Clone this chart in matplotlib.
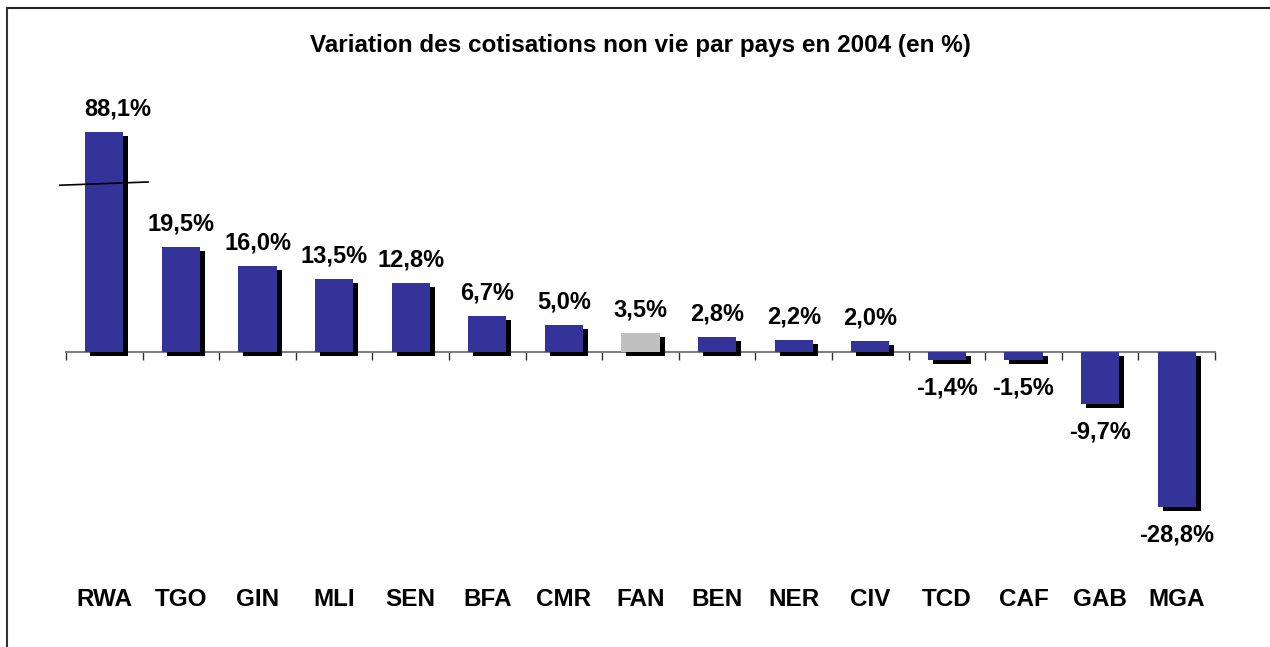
import matplotlib.pyplot as plt
import matplotlib.transforms as mtransforms
from matplotlib.lines import Line2D

plt.rcParams['font.family'] = ['Liberation Sans', 'DejaVu Sans']

# data
countries = ["RWA", "TGO", "GIN", "MLI", "SEN", "BFA", "CMR", "FAN",
             "BEN", "NER", "CIV", "TCD", "CAF", "GAB", "MGA"]
values = [88.1, 19.5, 16.0, 13.5, 12.8, 6.7, 5.0, 3.5,
          2.8, 2.2, 2.0, -1.4, -1.5, -9.7, -28.8]
labels = ["88,1%", "19,5%", "16,0%", "13,5%", "12,8%", "6,7%", "5,0%", "3,5%",
          "2,8%", "2,2%", "2,0%", "-1,4%", "-1,5%", "-9,7%", "-28,8%"]
title = "Variation des cotisations non vie par pays en 2004 (en %)"

# RWA is drawn with a broken (truncated) bar
cap = 40.9

W, H = 1270, 647
fig = plt.figure(figsize=(W / 100, H / 100), dpi=100)

y_lo, y_hi = -40, 45
px_per_unit = 5.38
bottom_px = 352 + (-y_lo) * px_per_unit
top_px = 352 - y_hi * px_per_unit
ax = fig.add_axes([66 / W, 1 - bottom_px / H, (1215 - 66) / W, (bottom_px - top_px) / H])
ax.set_xlim(-0.5, len(countries) - 0.5)
ax.set_ylim(y_lo, y_hi)

bar_color = "#333399"
colors = ["#C0C0C0" if c == "FAN" else bar_color for c in countries]
shown = [min(v, cap) for v in values]
x = list(range(len(countries)))

# shadow under each bar
shadow = mtransforms.offset_copy(ax.transData, fig=fig, x=5, y=-4, units='dots')
ax.bar(x, shown, width=0.5, color="black", transform=shadow, zorder=2.6)
ax.bar(x, shown, width=0.5, color=colors, zorder=3)

# break mark on the truncated bar
ax.plot([-0.58, 0.57], [31.0, 31.6], color="black", lw=1.2, zorder=4, clip_on=False)

for i, (v, s, lab) in enumerate(zip(values, shown, labels)):
    dx = 10 if v > cap else 0
    if v >= 0:
        ax.annotate(lab, (i, s), xytext=(dx, 12), textcoords='offset points',
                    ha='center', va='baseline', fontsize=17, fontweight='bold')
    else:
        ax.annotate(lab, (i, s), xytext=(0, -25), textcoords='offset points',
                    ha='center', va='baseline', fontsize=17, fontweight='bold')

# category names
trans = mtransforms.blended_transform_factory(ax.transData, fig.transFigure)
for i, c in enumerate(countries):
    ax.text(i, 1 - 606 / H, c, transform=trans, ha='center', va='baseline',
            fontsize=17.5, fontweight='bold')

# axis at zero with ticks between categories
for side in ["top", "right", "left"]:
    ax.spines[side].set_visible(False)
ax.spines["bottom"].set_position(("data", 0))
ax.spines["bottom"].set_color("#808080")
ax.spines["bottom"].set_linewidth(1.5)
ax.set_xticks([i - 0.5 for i in range(len(countries) + 1)])
ax.set_xticklabels([])
ax.tick_params(axis='x', direction='out', length=6, width=1, color="#303030")
ax.set_yticks([])

fig.text(640 / W, 1 - 52 / H, title, ha='center', va='baseline',
         fontsize=17.5, fontweight='bold')

# frame lines (top and left)
fig.add_artist(Line2D([7 / W, 1], [1 - 8 / H, 1 - 8 / H], color="#222222", lw=1.5))
fig.add_artist(Line2D([7 / W, 7 / W], [0, 1 - 8 / H], color="#333333", lw=1.5))

fig.savefig("out.png", dpi=100)
